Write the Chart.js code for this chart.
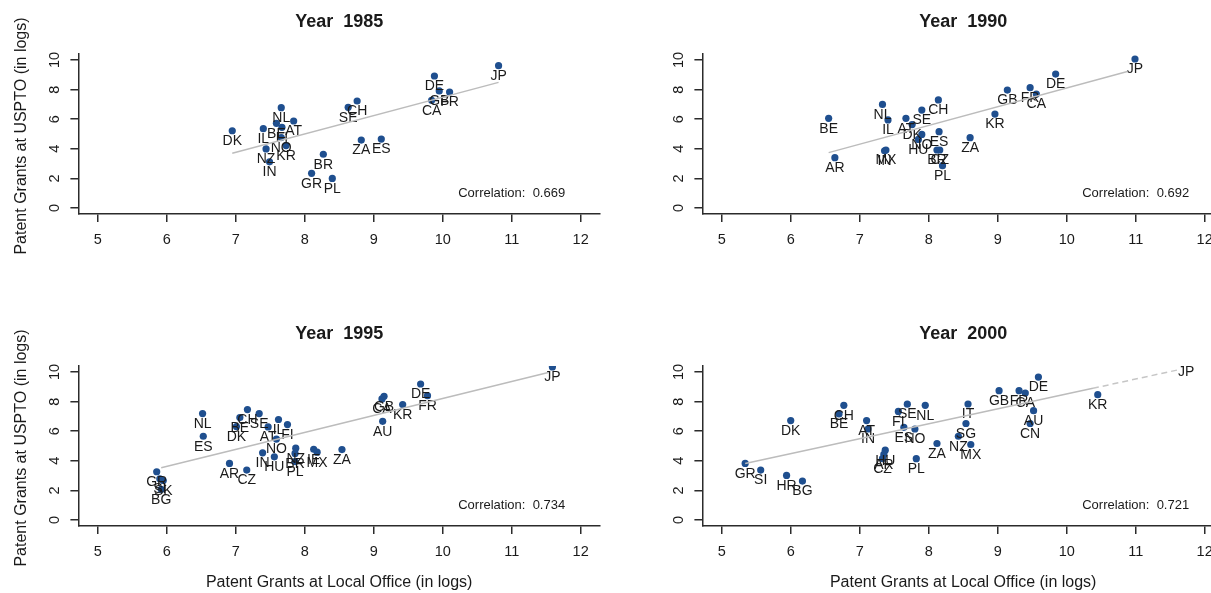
<!DOCTYPE html>
<html>
<head>
<meta charset="utf-8">
<title>Patent grants: USPTO vs local office</title>
<script src="https://cdn.jsdelivr.net/npm/chart.js@4/dist/chart.umd.min.js"></script>
<style>
  html, body { margin: 0; padding: 0; background: #fff; width: 1211px; height: 593px; overflow: hidden; }
  .panel { position: absolute; }
</style>
</head>
<body>
<div class="panel" style="left:0px;top:0px"><canvas id="p1985" width="640" height="312"></canvas></div>
<div class="panel" style="left:624px;top:0px"><canvas id="p1990" width="640" height="312"></canvas></div>
<div class="panel" style="left:0px;top:312px"><canvas id="p1995" width="640" height="312"></canvas></div>
<div class="panel" style="left:624px;top:312px"><canvas id="p2000" width="640" height="312"></canvas></div>
<script>
// Axis ticks shared by all four panels
const xTicks = [5, 6, 7, 8, 9, 10, 11, 12];
const yTicks = [0, 2, 4, 6, 8, 10];

// 1985: country codes, log grants at local office (x) and at USPTO (y)
const codes1985 = ['DK','IL','BE','NL','FI','AT','NO','KR','NZ','IN','SE','CH','ZA','ES','BR','GR','PL','CA','DE','GB','FR','JP'];
const local1985 = [6.95,7.40,7.59,7.66,7.67,7.84,7.66,7.73,7.44,7.49,8.63,8.76,8.82,9.11,8.27,8.10,8.40,9.84,9.88,9.95,10.10,10.81];
const uspto1985 = [5.22,5.36,5.72,6.78,5.45,5.88,4.76,4.22,3.99,3.12,6.80,7.23,4.59,4.66,3.63,2.34,2.00,7.28,8.92,7.91,7.84,9.62];
const fitX1985 = [6.95, 10.81];
const fitY1985 = [3.70, 8.49];

// 1990
const codes1990 = ['BE','AR','NL','IL','MX','IN','AT','DK','SE','CH','NO','HU','ES','BR','CZ','PL','ZA','KR','GB','FR','CA','DE','JP'];
const local1990 = [6.55,6.64,7.33,7.41,7.38,7.36,7.67,7.76,7.90,8.14,7.90,7.85,8.15,8.12,8.16,8.20,8.60,8.96,9.14,9.47,9.56,9.84,10.99];
const uspto1990 = [6.06,3.40,7.00,5.95,3.92,3.86,6.06,5.64,6.62,7.30,4.97,4.63,5.16,3.92,3.92,2.86,4.75,6.35,7.97,8.13,7.70,9.05,10.07];
const fitX1990 = [6.55, 10.88];
const fitY1990 = [3.74, 9.22];

// 1995
const codes1995 = ['NL','ES','GR','SI','SK','BG','CH','SE','BE','DK','IL','FI','AT','NO','IN','HU','AR','CZ','NZ','BR','PL','IE','MX','ZA','AU','CA','GB','KR','DE','FR','JP'];
const local1995 = [6.52,6.53,5.855,5.90,5.95,5.92,7.17,7.34,7.06,7.01,7.62,7.75,7.47,7.59,7.39,7.56,6.91,7.16,7.87,7.86,7.86,8.13,8.18,8.54,9.13,9.12,9.15,9.42,9.68,9.78,11.59];
const uspto1995 = [7.19,5.66,3.26,2.78,2.67,2.07,7.46,7.19,6.92,6.31,6.79,6.45,6.29,5.47,4.54,4.27,3.82,3.37,4.85,4.50,3.95,4.78,4.58,4.76,6.67,8.18,8.36,7.80,9.19,8.40,10.34];
const fitX1995 = [5.92, 11.53];
const fitY1995 = [3.53, 9.97];

// 2000
const codes2000 = ['GR','SI','HR','BG','DK','BE','CH','AT','IN','FI','SE','ES','NO','NL','HU','AR','CZ','PL','ZA','NZ','SG','IT','MX','GB','FR','CA','CN','AU','DE','KR','JP'];
const local2000 = [5.34,5.565,5.94,6.17,6.00,6.70,6.77,7.10,7.12,7.56,7.69,7.64,7.80,7.95,7.37,7.35,7.33,7.82,8.12,8.43,8.54,8.57,8.61,9.02,9.31,9.40,9.47,9.52,9.59,10.45,11.73];
const uspto2000 = [3.82,3.37,3.01,2.63,6.72,7.17,7.75,6.72,6.15,7.34,7.83,6.26,6.15,7.75,4.72,4.43,4.15,4.14,5.17,5.66,6.52,7.84,5.10,8.74,8.74,8.58,6.52,7.39,9.66,8.47,10.69];
const fitX2000 = [5.34, 10.38];
const fitY2000 = [3.82, 8.90];
const fitTailX2000 = [10.38, 11.62];
const fitTailY2000 = [8.90, 10.15];

const years = [1985, 1990, 1995, 2000];
const correlations = [0.669, 0.692, 0.734, 0.721];

const FONT = '"Liberation Sans", Arial, Helvetica, sans-serif';
const AXIS_COLOR = '#2b2b2b';
const DOT_COLOR = '#1f4f8f';
const FIT_COLOR = '#bcbcbc';

// Text layer: point labels, tick labels, titles and the correlation note
const panelText = {
  id: 'panelText',
  afterDatasetDraw(chart, args, opts) {
    if (args.index !== 0) return;
    const area = chart.chartArea;
    const meta = chart.getDatasetMeta(0);
    const ctx = chart.ctx;
    ctx.save();
    ctx.beginPath();
    ctx.rect(area.left, area.top, area.right - area.left, area.bottom - area.top);
    ctx.clip();
    ctx.font = '14px ' + FONT;
    ctx.fillStyle = '#1a1a1a';
    ctx.textAlign = 'center';
    ctx.textBaseline = 'middle';
    opts.codes.forEach((c, i) => {
      const el = meta.data[i];
      ctx.fillText(c, el.x, el.y + 10.5);
    });
    ctx.restore();
  },
  afterDraw(chart, args, opts) {
    const ctx = chart.ctx;
    const area = chart.chartArea;
    const xs = chart.scales.x, ys = chart.scales.y;
    ctx.save();
    ctx.fillStyle = '#1a1a1a';
    ctx.textAlign = 'center';
    ctx.textBaseline = 'middle';

    // x tick labels
    ctx.font = '14.5px ' + FONT;
    xTicks.forEach(v => ctx.fillText(String(v), xs.getPixelForValue(v), area.bottom + 26));

    // y tick labels, written along the axis
    yTicks.forEach(v => {
      ctx.save();
      ctx.translate(area.left - 23, ys.getPixelForValue(v));
      ctx.rotate(-Math.PI / 2);
      ctx.fillText(String(v), 0, 0);
      ctx.restore();
    });

    // correlation note
    ctx.font = '13px ' + FONT;
    ctx.fillText('Correlation:  ' + opts.corr.toFixed(3), xs.getPixelForValue(11), ys.getPixelForValue(1));

    // panel title
    ctx.font = 'bold 18px ' + FONT;
    ctx.fillText('Year  ' + opts.year, (area.left + area.right) / 2, area.top - 32);

    // axis titles
    ctx.font = '16px ' + FONT;
    if (opts.yTitle) {
      ctx.save();
      ctx.translate(area.left - 57, (area.top + area.bottom) / 2 + 2);
      ctx.rotate(-Math.PI / 2);
      ctx.fillText('Patent Grants at USPTO (in logs)', 0, 0);
      ctx.restore();
    }
    if (opts.xTitle) {
      ctx.fillText('Patent Grants at Local Office (in logs)', (area.left + area.right) / 2, area.bottom + 57);
    }
    ctx.restore();
  }
};

function points(xs, ys) {
  return xs.map((x, i) => ({ x: x, y: ys[i] }));
}

function makePanel(canvasId, idx, codes, xs, ys, fitX, fitY, tailX, tailY, yTitle, xTitle) {
  const datasets = [
    {
      type: 'scatter',
      data: points(xs, ys),
      backgroundColor: DOT_COLOR,
      borderColor: DOT_COLOR,
      borderWidth: 0,
      pointRadius: 3.6,
      pointHoverRadius: 3.6,
      clip: 0,
      order: 3
    },
    {
      type: 'line',
      data: points(fitX, fitY),
      borderColor: FIT_COLOR,
      borderWidth: 1.5,
      pointRadius: 0,
      fill: false,
      tension: 0,
      clip: 0,
      order: 1
    }
  ];
  if (tailX) {
    datasets.push({
      type: 'line',
      data: points(tailX, tailY),
      borderColor: '#c6c6c6',
      borderWidth: 1.5,
      borderDash: [6, 4],
      pointRadius: 0,
      fill: false,
      tension: 0,
      clip: 0,
      order: 2
    });
  }
  const axisGrid = {
    display: true,
    drawOnChartArea: false,
    drawTicks: true,
    tickLength: 8,
    color: AXIS_COLOR,
    tickColor: AXIS_COLOR,
    tickWidth: 1.5,
    lineWidth: 1.5
  };
  const axisBorder = { display: true, color: AXIS_COLOR, width: 1.5 };
  return new Chart(document.getElementById(canvasId), {
    data: { datasets: datasets },
    options: {
      responsive: false,
      devicePixelRatio: 1,
      animation: false,
      events: [],
      layout: { padding: { left: 38.4, top: 54.1, right: 40, bottom: 58.1 } },
      scales: {
        x: {
          type: 'linear',
          min: 4.72,
          max: 12.28,
          grid: axisGrid,
          border: axisBorder,
          ticks: { display: false, autoSkip: false },
          afterBuildTicks: s => { s.ticks = xTicks.map(v => ({ value: v })); },
          afterFit: s => { s.height = 40; }
        },
        y: {
          type: 'linear',
          min: -0.4,
          max: 10.4,
          grid: axisGrid,
          border: axisBorder,
          ticks: { display: false, autoSkip: false },
          afterBuildTicks: s => { s.ticks = yTicks.map(v => ({ value: v })); },
          afterFit: s => { s.width = 40; }
        }
      },
      plugins: {
        legend: { display: false },
        tooltip: { enabled: false },
        panelText: {
          codes: codes,
          corr: correlations[idx],
          year: years[idx],
          yTitle: yTitle,
          xTitle: xTitle
        }
      }
    },
    plugins: [panelText]
  });
}

makePanel('p1985', 0, codes1985, local1985, uspto1985, fitX1985, fitY1985, null, null, true, false);
makePanel('p1990', 1, codes1990, local1990, uspto1990, fitX1990, fitY1990, null, null, false, false);
makePanel('p1995', 2, codes1995, local1995, uspto1995, fitX1995, fitY1995, null, null, true, true);
makePanel('p2000', 3, codes2000, local2000, uspto2000, fitX2000, fitY2000, fitTailX2000, fitTailY2000, false, true);
</script>
</body>
</html>
